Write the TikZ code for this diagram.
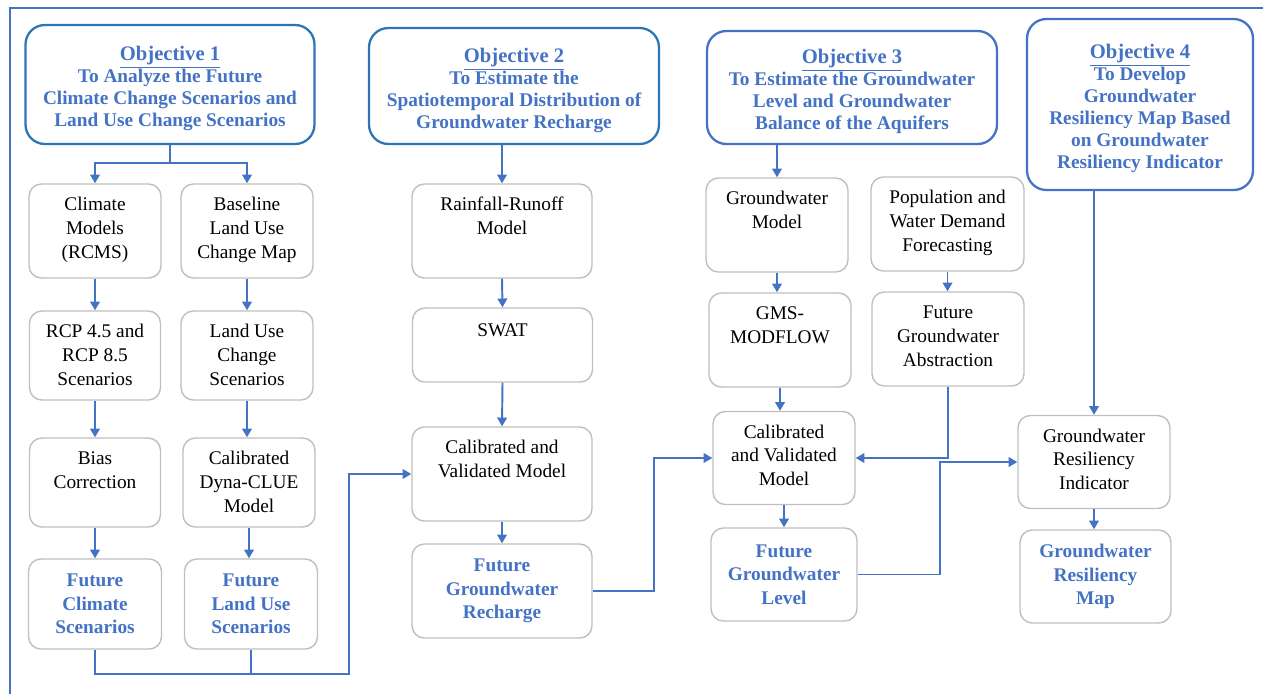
\documentclass[tikz,border=0pt]{standalone}
\usepackage{fontspec}
\setmainfont{Liberation Serif}
\usetikzlibrary{arrows.meta}
\definecolor{lineblue}{HTML}{4472C4}
\definecolor{objblue}{HTML}{2E75B6}
\definecolor{boxgray}{HTML}{BFBFBF}
% text placed at the top of a box
\newcommand{\toptxt}[2][1.48cm]{\vbox to #1{\hbox{\begin{tabular}[t]{@{}c@{}}#2\end{tabular}}\vss}}
% underlined heading of an objective
\newcommand{\objhead}[1]{\rule{0pt}{13pt}{\fontsize{11.75}{12.5}\selectfont\underline{#1}}}

\tikzset{
  obj/.style={draw=objblue, line width=1.3pt, rounded corners=11pt, align=center, text=lineblue,
    font=\fontsize{11}{12.5}\selectfont\bfseries, inner sep=0pt},
  task/.style={draw=boxgray, line width=0.8pt, rounded corners=7pt, inner sep=0pt,
    font=\fontsize{11}{13.5}\selectfont, minimum height=1.88cm},
  result/.style={task, align=center, text=lineblue, font=\fontsize{11}{13.5}\selectfont\bfseries},
  arr/.style={lineblue, line width=1.1pt, -{Triangle[width=5.5pt,length=5pt]}},
  link/.style={lineblue, line width=1.1pt},
}

\begin{document}
\begin{tikzpicture}[x=0.02cm, y=-0.02cm]
\useasboundingbox (0,0) rectangle (1263,694);
\draw[link] (10,694) -- (10,8) -- (1263,8);

% objectives
\node[obj, minimum width=5.78cm, minimum height=2.38cm] (obj1) at (170,84.5)
  {\objhead{Objective 1}\\To Analyze the Future\\Climate Change Scenarios and\\Land Use Change Scenarios};
\node[obj, minimum width=5.8cm, minimum height=2.32cm] (obj2) at (514,86)
  {\objhead{Objective 2}\\To Estimate the\\Spatiotemporal Distribution of\\Groundwater Recharge};
\node[obj, draw=lineblue, minimum width=5.8cm, minimum height=2.26cm] (obj3) at (852,87.5)
  {\objhead{Objective 3}\\To Estimate the Groundwater\\Level and Groundwater\\Balance of the Aquifers};
\node[obj, draw=lineblue, minimum width=4.52cm, minimum height=3.42cm] (obj4) at (1140,104.5)
  {\objhead{Objective 4}\\To Develop\\Groundwater\\Resiliency Map Based\\on Groundwater\\Resiliency Indicator};

% objective 1
\node[task, minimum width=2.64cm] (clim) at (95,231) {\toptxt{Climate\\Models\\(RCMS)}};
\node[task, minimum width=2.64cm] (base) at (247,231) {\toptxt{Baseline\\Land Use\\Change Map}};
\node[task, minimum width=2.62cm, minimum height=1.78cm] (rcp) at (95,355.5) {\toptxt[1.38cm]{RCP 4.5 and\\RCP 8.5\\Scenarios}};
\node[task, minimum width=2.64cm, minimum height=1.78cm] (lucs) at (247,355.5) {\toptxt[1.38cm]{Land Use\\Change\\Scenarios}};
\node[task, minimum width=2.62cm, minimum height=1.78cm] (bias) at (95,482.5) {\toptxt[1.38cm]{Bias\\Correction}};
\node[task, minimum width=2.64cm, minimum height=1.78cm] (dyna) at (249,482.5) {\toptxt[1.38cm]{Calibrated\\Dyna-CLUE\\Model}};
\node[result, minimum width=2.66cm, minimum height=1.8cm] (fclim) at (95,604) {Future\\Climate\\Scenarios};
\node[result, minimum width=2.66cm, minimum height=1.8cm] (fland) at (251,604) {Future\\Land Use\\Scenarios};

% objective 2
\node[task, minimum width=3.6cm] (rain) at (502,231) {\toptxt{Rainfall-Runoff\\Model}};
\node[task, minimum width=3.6cm, minimum height=1.48cm] (swat) at (502.5,345) {\toptxt[1.0cm]{SWAT}};
\node[task, minimum width=3.6cm] (calv) at (502,474) {\toptxt{Calibrated and\\Validated Model}};
\node[result, minimum width=3.6cm] (frech) at (502,591) {Future\\Groundwater\\Recharge};

% objective 3
\node[task, minimum width=2.84cm] (gwm) at (777,225) {\toptxt{Groundwater\\Model}};
\node[task, minimum width=3.06cm] (pop) at (947.5,224) {\toptxt{Population and\\Water Demand\\Forecasting}};
\node[task, minimum width=2.84cm] (gms) at (780,340) {\toptxt{GMS-\\MODFLOW}};
\node[task, minimum width=3.04cm] (fga) at (948,339) {\toptxt{Future\\Groundwater\\Abstraction}};
\node[task, minimum width=2.84cm, minimum height=1.86cm] (cal3) at (784,458) {\toptxt[1.46cm]{Calibrated\\and Validated\\Model}};
\node[result, minimum width=2.92cm, minimum height=1.86cm] (fgl) at (784,574.5) {Future\\Groundwater\\Level};

% objective 4
\node[task, minimum width=3.04cm, minimum height=1.86cm] (gri) at (1094,462) {\toptxt[1.46cm]{Groundwater\\Resiliency\\Indicator}};
\node[result, minimum width=3.02cm, minimum height=1.86cm] (grm) at (1095.5,576.5) {Groundwater\\Resiliency\\Map};

% connectors
\draw[arr] (obj1.south) -- ++(0,18) -| (clim.north);
\draw[arr] (obj1.south) -- ++(0,18) -| (base.north);
\draw[arr] (clim.south) -- (rcp.north);
\draw[arr] (rcp.south) -- (bias.north);
\draw[arr] (bias.south) -- (bias.south |- fclim.north);
\draw[arr] (base.south) -- (lucs.north);
\draw[arr] (lucs.south) -- (lucs.south |- dyna.north);
\draw[arr] (dyna.south) -- (dyna.south |- fland.north);
\coordinate (bend1) at (349,474);
\draw[arr] (fclim.south) -- ++(0,24) -| (bend1) -- (calv.west);
\draw[link] (fland.south) -- ++(0,24);

\draw[arr] (obj2.south -| rain.north) -- (rain.north);
\draw[arr] (rain.south) -- (swat.north);
\draw[arr] (swat.south) -- (calv.north);
\draw[arr] (calv.south) -- (frech.north);
\draw[arr] (frech.east) -- ++(61,0) |- (cal3.west);

\draw[arr] (gwm.north |- obj3.south) -- (gwm.north);
\draw[arr] (gwm.south) -- (gwm.south |- gms.north);
\draw[arr] (pop.south) -- (pop.south |- fga.north);
\draw[arr] (gms.south) -- (gms.south |- cal3.north);
\draw[arr] (fga.south) |- (cal3.east);
\draw[arr] (cal3.south) -- (cal3.south |- fgl.north);
\draw[arr] (fgl.east) -- ++(82,0) |- (gri.west);

\draw[arr] (gri.north |- obj4.south) -- (gri.north);
\draw[arr] (gri.south) -- (gri.south |- grm.north);
\end{tikzpicture}
\end{document}
